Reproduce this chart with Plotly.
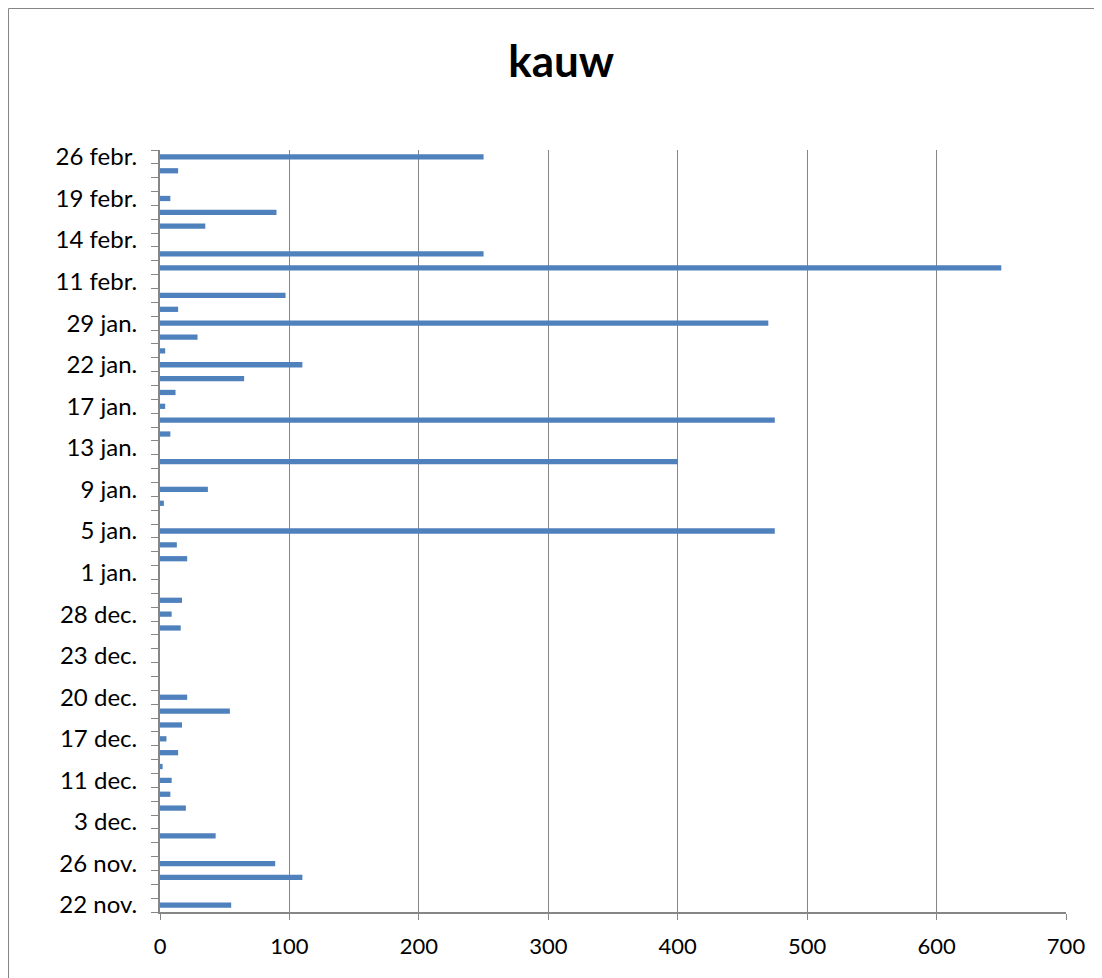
import plotly.graph_objects as go

# Kauw-tellingen per telling (van onder naar boven), 22 nov. t/m 26 febr.
counts = [55, 0, 110, 89, 0, 43, 0, 20, 8, 9,
          2, 14, 5, 17, 54, 21, 0, 0, 0, 0,
          16, 9, 17, 0, 0, 21, 13, 475, 0, 3,
          37, 0, 400, 0, 8, 475, 4, 12, 65, 110,
          4, 29, 470, 14, 97, 0, 650, 250, 0, 35,
          90, 8, 0, 14, 250]

# alleen elke derde categorie heeft een label
tick_labels = ["22 nov.", "26 nov.", "3 dec.", "11 dec.", "17 dec.", "20 dec.",
               "23 dec.", "28 dec.", "1 jan.", "5 jan.", "9 jan.", "13 jan.",
               "17 jan.", "22 jan.", "29 jan.", "11 febr.", "14 febr.",
               "19 febr.", "26 febr."]
label_step = 3

positions = list(range(len(counts)))
tick_pos = positions[::label_step]

grey = "#868686"

fig = go.Figure()
fig.add_trace(go.Bar(
    x=counts, y=positions,
    orientation="h",
    width=0.38,
    marker=dict(color="#4F81BD", line=dict(width=0)),
    name="kauw",
))

# plotgebied: 906 x 762 px
fig.update_layout(
    width=1102, height=978,
    margin=dict(l=152, r=44, t=142, b=74),
    paper_bgcolor="white", plot_bgcolor="white",
    showlegend=False,
    font=dict(family="Lato, Carlito, Calibri, sans-serif", color="black"),
    title=dict(text="<b>kauw</b>", x=0.502, xanchor="center",
               y=0.945, yanchor="middle", font=dict(size=44, color="black")),
    xaxis=dict(
        range=[0, 700], dtick=100, tick0=0,
        showgrid=True, gridcolor=grey, gridwidth=1.3,
        showline=True, linecolor=grey, linewidth=2,
        ticks="outside", ticklen=6, tickcolor=grey, tickwidth=1.3,
        ticklabelstandoff=8,
        tickfont=dict(size=22),
        zeroline=False,
    ),
    yaxis=dict(
        range=[-0.5, len(counts) - 0.5],
        tickmode="array", tickvals=tick_pos, ticktext=tick_labels,
        ticks="",
        minor=dict(ticks="outside", ticklen=7, tickcolor=grey, tickwidth=1.3,
                   tick0=-0.5, dtick=1, showgrid=False),
        showgrid=False,
        showline=True, linecolor=grey, linewidth=2,
        ticklabelstandoff=16,
        tickfont=dict(size=24),
        zeroline=False,
    ),
)

# kaderlijn rond de grafiek
fig.add_shape(type="rect", xref="paper", yref="paper",
              x0=(0.5 - 152) / 906, x1=(1120 - 152) / 906,
              y0=(904 - 1000) / 762, y1=(904 - 0.5) / 762,
              line=dict(color=grey, width=1), fillcolor="rgba(0,0,0,0)",
              layer="below")

fig.write_html("out.html")
